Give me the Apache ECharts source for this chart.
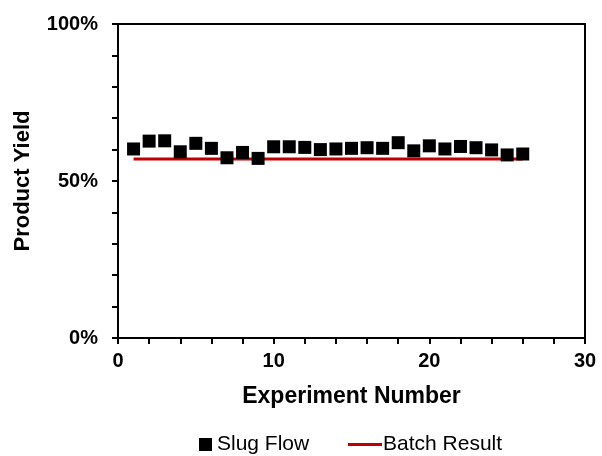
<!DOCTYPE html>
<html>
  <head>
    <meta charset="UTF-8" />
    <title>Product yield chart</title>
    <script src="https://cdn.jsdelivr.net/npm/echarts@6/dist/echarts.min.js"></script>
    <style>
      html, body { margin: 0; padding: 0; background: #fff; }
      #main { width: 602px; height: 456px; }
    </style>
  </head>
  <body>
    <div id="main"></div>
    <script>
      // experiment numbers and measured yields (%)
      const experiments = [1, 2, 3, 4, 5, 6, 7, 8, 9, 10, 11, 12, 13, 14, 15, 16, 17, 18, 19, 20, 21, 22, 23, 24, 25, 26]
      const slugYield = [60.2, 62.7, 62.8, 59.3, 62.0, 60.4, 57.4, 59.1, 57.2, 60.9, 60.9, 60.7, 60.0, 60.2,
        60.4, 60.6, 60.4, 62.2, 59.6, 61.2, 60.2, 61.0, 60.6, 59.9, 58.3, 58.6]
      const batchX = [1, 26]
      const batchYield = [57, 57]
      const yLabels = [0, 50, 100]
      const xLabels = [0, 10, 20, 30]

      const font = 'Liberation Sans, Arial, sans-serif'

      let chart = echarts.init(document.getElementById('main'))
      chart.setOption({
        animation: false,
        grid: {
          left: 118, right: 17, top: 24, bottom: 118,
          show: true, borderColor: '#000', borderWidth: 2
        },
        legend: [
          {
            data: [{ name: 'Slug Flow', icon: 'rect' }],
            left: 194, top: 429,
            itemWidth: 13, itemHeight: 13, itemGap: 10,
            textStyle: { fontFamily: font, fontSize: 21, color: '#000' }
          },
          {
            data: [{ name: 'Batch Result', icon: 'rect' }],
            left: 343, top: 429,
            itemWidth: 34, itemHeight: 3, itemGap: 2,
            textStyle: { fontFamily: font, fontSize: 21, color: '#000', padding: [0, 0, 0, -4] }
          }
        ],
        xAxis: {
          type: 'value', min: 0, max: 30, interval: 2,
          name: 'Experiment Number', nameLocation: 'middle', nameGap: 47,
          nameTextStyle: { fontFamily: font, fontSize: 23, fontWeight: 'bold', color: '#000' },
          axisLine: { show: true, onZero: false, lineStyle: { color: '#000', width: 2 } },
          axisTick: { show: true, length: 6, lineStyle: { color: '#000', width: 2 } },
          splitLine: { show: false },
          axisLabel: {
            fontFamily: font, fontSize: 20, fontWeight: 'bold', color: '#000', margin: 13,
            formatter: v => xLabels.includes(v) ? String(v) : ''
          }
        },
        yAxis: {
          type: 'value', min: 0, max: 100, interval: 10,
          name: 'Product Yield', nameLocation: 'middle', nameGap: 84, nameRotate: 90,
          nameTextStyle: { fontFamily: font, fontSize: 22, fontWeight: 'bold', color: '#000' },
          axisLine: { show: true, onZero: false, lineStyle: { color: '#000', width: 2 } },
          axisTick: { show: true, length: 6, lineStyle: { color: '#000', width: 2 } },
          splitLine: { show: false },
          axisLabel: {
            fontFamily: font, fontSize: 20, fontWeight: 'bold', color: '#000', margin: 20,
            formatter: v => yLabels.includes(v) ? v + '%' : ''
          }
        },
        series: [
          {
            name: 'Batch Result',
            type: 'line',
            data: batchX.map((x, i) => [x, batchYield[i]]),
            symbol: 'none',
            z: 2,
            itemStyle: { color: '#C00000' },
            lineStyle: { color: '#C00000', width: 3 }
          },
          {
            name: 'Slug Flow',
            type: 'scatter',
            data: experiments.map((x, i) => [x, slugYield[i]]),
            symbol: 'rect',
            symbolSize: 13,
            z: 3,
            itemStyle: { color: '#000', opacity: 1 }
          }
        ]
      })
    </script>
  </body>
</html>
